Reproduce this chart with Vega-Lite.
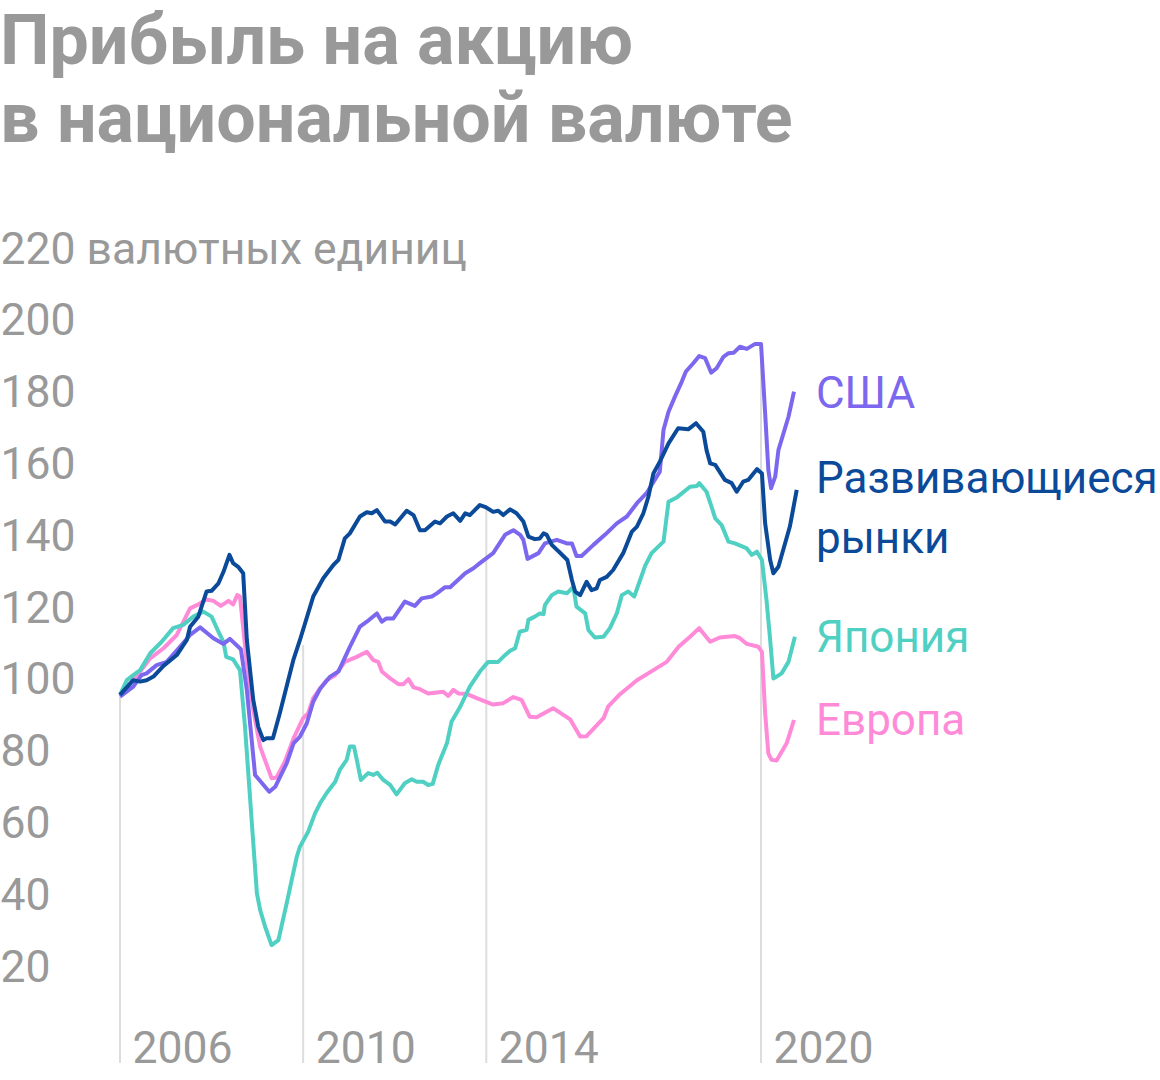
{
  "$schema": "https://vega.github.io/schema/vega-lite/v6.json",
  "width": 1160,
  "height": 833,
  "autosize": {"type": "none"},
  "padding": {"left": 0, "top": 230, "right": 0, "bottom": 17},
  "background": "white",
  "config": {"view": {"stroke": null}},
  "title": {
    "text": ["Прибыль на акцию", "в национальной валюте"],
    "anchor": "start",
    "frame": "group",
    "font": "Roboto",
    "fontSize": 70,
    "fontWeight": "bold",
    "color": "#999999",
    "lineHeight": 78,
    "offset": 70
  },
  "datasets": {
    "grid": [
      {"d": 2006, "v": 96},
      {"d": 2010, "v": 110},
      {"d": 2014, "v": 147.5},
      {"d": 2020, "v": 193.5}
    ],
    "us": [
      {"d":2006.00,"v":95.6},{"d":2006.29,"v":98.4},{"d":2006.47,"v":101.6},{"d":2006.58,"v":102.1},{"d":2006.80,"v":104.4},{"d":2007.02,"v":105.3},{"d":2007.31,"v":109.5},{"d":2007.53,"v":112.8},{"d":2007.75,"v":114.9},{"d":2008.04,"v":111.9},{"d":2008.26,"v":110.3},{"d":2008.40,"v":111.7},{"d":2008.64,"v":108.8},{"d":2008.77,"v":97.5},{"d":2008.95,"v":73.8},{"d":2009.26,"v":69.1},{"d":2009.39,"v":70.5},{"d":2009.64,"v":77.0},{"d":2009.79,"v":82.6},{"d":2009.93,"v":84.5},{"d":2010.08,"v":88.2},{"d":2010.22,"v":94.2},{"d":2010.37,"v":97.8},{"d":2010.59,"v":101.2},{"d":2010.77,"v":102.6},{"d":2011.02,"v":109.5},{"d":2011.24,"v":115.1},{"d":2011.39,"v":116.5},{"d":2011.61,"v":118.8},{"d":2011.72,"v":116.5},{"d":2011.82,"v":117.4},{"d":2011.97,"v":117.4},{"d":2012.22,"v":122.1},{"d":2012.44,"v":120.9},{"d":2012.59,"v":123.0},{"d":2012.81,"v":123.5},{"d":2012.92,"v":124.4},{"d":2013.10,"v":126.1},{"d":2013.21,"v":126.1},{"d":2013.54,"v":130.0},{"d":2013.72,"v":131.4},{"d":2013.86,"v":132.8},{"d":2014.15,"v":135.6},{"d":2014.41,"v":140.7},{"d":2014.59,"v":142.0},{"d":2014.74,"v":140.7},{"d":2014.81,"v":139.3},{"d":2014.90,"v":134.0},{"d":2015.14,"v":135.6},{"d":2015.28,"v":138.3},{"d":2015.54,"v":139.3},{"d":2015.76,"v":138.3},{"d":2015.87,"v":138.3},{"d":2015.97,"v":134.8},{"d":2016.08,"v":134.8},{"d":2016.34,"v":137.9},{"d":2016.59,"v":140.7},{"d":2016.85,"v":143.9},{"d":2017.07,"v":145.8},{"d":2017.29,"v":149.5},{"d":2017.50,"v":152.3},{"d":2017.61,"v":154.6},{"d":2017.79,"v":158.3},{"d":2017.87,"v":169.9},{"d":2017.98,"v":175.0},{"d":2018.12,"v":179.2},{"d":2018.27,"v":183.4},{"d":2018.36,"v":186.2},{"d":2018.52,"v":188.5},{"d":2018.65,"v":190.5},{"d":2018.78,"v":189.9},{"d":2018.91,"v":185.9},{"d":2019.03,"v":187.1},{"d":2019.18,"v":190.3},{"d":2019.29,"v":191.3},{"d":2019.40,"v":191.4},{"d":2019.54,"v":193.1},{"d":2019.69,"v":192.5},{"d":2019.87,"v":193.9},{"d":2020.00,"v":193.9},{"d":2020.09,"v":174.6},{"d":2020.16,"v":158.8},{"d":2020.22,"v":153.7},{"d":2020.31,"v":156.9},{"d":2020.38,"v":164.3},{"d":2020.60,"v":173.6},{"d":2020.72,"v":180.6}
    ],
    "em": [
      {"d":2006.00,"v":96.1},{"d":2006.29,"v":100.2},{"d":2006.44,"v":99.8},{"d":2006.58,"v":100.2},{"d":2006.73,"v":101.2},{"d":2006.95,"v":104.2},{"d":2007.24,"v":107.2},{"d":2007.46,"v":111.4},{"d":2007.53,"v":115.1},{"d":2007.71,"v":117.9},{"d":2007.89,"v":124.9},{"d":2008.00,"v":125.1},{"d":2008.15,"v":127.2},{"d":2008.26,"v":130.4},{"d":2008.39,"v":135.1},{"d":2008.47,"v":132.8},{"d":2008.58,"v":131.8},{"d":2008.69,"v":130.0},{"d":2008.77,"v":111.4},{"d":2008.91,"v":94.7},{"d":2009.02,"v":87.2},{"d":2009.13,"v":83.5},{"d":2009.20,"v":84.0},{"d":2009.34,"v":84.0},{"d":2009.49,"v":91.0},{"d":2009.79,"v":106.0},{"d":2009.93,"v":111.4},{"d":2010.22,"v":123.5},{"d":2010.44,"v":128.6},{"d":2010.66,"v":132.3},{"d":2010.77,"v":133.7},{"d":2010.91,"v":139.7},{"d":2011.02,"v":141.1},{"d":2011.24,"v":145.8},{"d":2011.39,"v":147.0},{"d":2011.50,"v":146.7},{"d":2011.61,"v":147.6},{"d":2011.79,"v":144.4},{"d":2011.90,"v":144.4},{"d":2012.01,"v":143.6},{"d":2012.26,"v":147.4},{"d":2012.41,"v":146.2},{"d":2012.55,"v":142.0},{"d":2012.66,"v":142.0},{"d":2012.88,"v":144.4},{"d":2012.99,"v":143.9},{"d":2013.14,"v":145.8},{"d":2013.28,"v":146.7},{"d":2013.43,"v":144.6},{"d":2013.54,"v":146.7},{"d":2013.64,"v":146.2},{"d":2013.86,"v":149.0},{"d":2013.97,"v":148.5},{"d":2014.15,"v":147.1},{"d":2014.26,"v":147.4},{"d":2014.37,"v":146.2},{"d":2014.52,"v":147.8},{"d":2014.66,"v":146.7},{"d":2014.81,"v":144.4},{"d":2014.92,"v":140.2},{"d":2015.06,"v":139.5},{"d":2015.17,"v":139.7},{"d":2015.25,"v":141.1},{"d":2015.32,"v":140.7},{"d":2015.43,"v":137.9},{"d":2015.61,"v":135.7},{"d":2015.77,"v":133.7},{"d":2015.87,"v":128.1},{"d":2015.94,"v":124.9},{"d":2016.05,"v":123.9},{"d":2016.19,"v":127.6},{"d":2016.30,"v":125.3},{"d":2016.41,"v":125.8},{"d":2016.48,"v":128.1},{"d":2016.63,"v":129.0},{"d":2016.77,"v":130.9},{"d":2016.99,"v":135.6},{"d":2017.18,"v":141.6},{"d":2017.29,"v":143.0},{"d":2017.43,"v":146.7},{"d":2017.54,"v":151.3},{"d":2017.65,"v":157.8},{"d":2017.79,"v":161.1},{"d":2017.98,"v":166.2},{"d":2018.19,"v":170.4},{"d":2018.41,"v":170.1},{"d":2018.58,"v":171.8},{"d":2018.74,"v":169.4},{"d":2018.81,"v":164.3},{"d":2018.89,"v":160.6},{"d":2019.00,"v":160.2},{"d":2019.07,"v":158.8},{"d":2019.21,"v":156.0},{"d":2019.36,"v":155.1},{"d":2019.47,"v":152.7},{"d":2019.61,"v":155.5},{"d":2019.72,"v":156.0},{"d":2019.91,"v":159.0},{"d":2020.02,"v":157.8},{"d":2020.09,"v":143.9},{"d":2020.20,"v":133.7},{"d":2020.27,"v":130.0},{"d":2020.38,"v":131.8},{"d":2020.63,"v":143.0},{"d":2020.78,"v":153.2}
    ],
    "jp": [
      {"d":2006.00,"v":96.1},{"d":2006.15,"v":100.2},{"d":2006.29,"v":101.6},{"d":2006.44,"v":103.0},{"d":2006.66,"v":107.7},{"d":2006.91,"v":110.9},{"d":2007.16,"v":114.7},{"d":2007.38,"v":115.6},{"d":2007.60,"v":117.9},{"d":2007.82,"v":119.3},{"d":2008.00,"v":117.9},{"d":2008.15,"v":113.7},{"d":2008.26,"v":110.9},{"d":2008.32,"v":106.7},{"d":2008.47,"v":106.0},{"d":2008.62,"v":103.0},{"d":2008.73,"v":87.2},{"d":2008.88,"v":60.3},{"d":2008.99,"v":40.8},{"d":2009.06,"v":36.2},{"d":2009.17,"v":31.5},{"d":2009.31,"v":26.4},{"d":2009.46,"v":27.8},{"d":2009.64,"v":38.0},{"d":2009.86,"v":51.0},{"d":2009.93,"v":53.8},{"d":2010.11,"v":58.0},{"d":2010.26,"v":63.1},{"d":2010.37,"v":65.9},{"d":2010.51,"v":68.7},{"d":2010.70,"v":71.9},{"d":2010.80,"v":75.2},{"d":2010.95,"v":78.0},{"d":2011.02,"v":81.7},{"d":2011.11,"v":81.7},{"d":2011.18,"v":77.5},{"d":2011.26,"v":72.4},{"d":2011.42,"v":74.3},{"d":2011.53,"v":73.8},{"d":2011.62,"v":74.4},{"d":2011.75,"v":72.4},{"d":2011.90,"v":71.0},{"d":2012.04,"v":68.4},{"d":2012.22,"v":71.5},{"d":2012.37,"v":72.6},{"d":2012.48,"v":71.9},{"d":2012.62,"v":71.9},{"d":2012.73,"v":71.0},{"d":2012.83,"v":71.3},{"d":2012.95,"v":76.6},{"d":2013.14,"v":82.6},{"d":2013.24,"v":88.6},{"d":2013.43,"v":92.8},{"d":2013.64,"v":98.4},{"d":2013.86,"v":102.6},{"d":2014.04,"v":105.3},{"d":2014.26,"v":105.3},{"d":2014.37,"v":106.7},{"d":2014.52,"v":108.4},{"d":2014.63,"v":109.1},{"d":2014.73,"v":113.7},{"d":2014.88,"v":114.2},{"d":2014.92,"v":117.0},{"d":2015.06,"v":117.9},{"d":2015.17,"v":118.8},{"d":2015.25,"v":118.6},{"d":2015.28,"v":121.1},{"d":2015.43,"v":123.9},{"d":2015.57,"v":124.9},{"d":2015.76,"v":124.4},{"d":2015.90,"v":126.2},{"d":2015.97,"v":120.7},{"d":2016.16,"v":118.8},{"d":2016.23,"v":114.2},{"d":2016.37,"v":112.1},{"d":2016.56,"v":112.3},{"d":2016.70,"v":114.7},{"d":2016.85,"v":118.8},{"d":2016.96,"v":123.9},{"d":2017.10,"v":124.9},{"d":2017.23,"v":123.5},{"d":2017.36,"v":128.1},{"d":2017.47,"v":132.1},{"d":2017.61,"v":135.6},{"d":2017.87,"v":138.8},{"d":2017.98,"v":149.9},{"d":2018.17,"v":151.2},{"d":2018.45,"v":154.1},{"d":2018.60,"v":154.3},{"d":2018.65,"v":155.1},{"d":2018.81,"v":152.7},{"d":2018.92,"v":148.5},{"d":2019.00,"v":145.3},{"d":2019.14,"v":143.4},{"d":2019.29,"v":138.8},{"d":2019.43,"v":138.3},{"d":2019.69,"v":136.9},{"d":2019.80,"v":135.1},{"d":2019.91,"v":136.0},{"d":2020.02,"v":133.7},{"d":2020.12,"v":122.5},{"d":2020.20,"v":111.4},{"d":2020.27,"v":100.7},{"d":2020.34,"v":101.2},{"d":2020.45,"v":102.1},{"d":2020.60,"v":105.3},{"d":2020.74,"v":112.3}
    ],
    "eu": [
      {"d":2006.00,"v":96.1},{"d":2006.22,"v":99.3},{"d":2006.44,"v":102.6},{"d":2006.66,"v":106.3},{"d":2006.95,"v":109.1},{"d":2007.24,"v":112.8},{"d":2007.53,"v":120.2},{"d":2007.68,"v":121.1},{"d":2007.89,"v":122.7},{"d":2008.04,"v":122.3},{"d":2008.20,"v":120.9},{"d":2008.37,"v":122.3},{"d":2008.47,"v":121.3},{"d":2008.56,"v":123.9},{"d":2008.62,"v":123.5},{"d":2008.77,"v":104.9},{"d":2008.91,"v":91.9},{"d":2009.06,"v":81.7},{"d":2009.31,"v":72.9},{"d":2009.42,"v":73.1},{"d":2009.60,"v":77.5},{"d":2009.79,"v":84.0},{"d":2010.00,"v":89.6},{"d":2010.11,"v":91.0},{"d":2010.22,"v":95.2},{"d":2010.37,"v":97.9},{"d":2010.51,"v":100.2},{"d":2010.70,"v":101.6},{"d":2010.91,"v":105.3},{"d":2011.17,"v":106.7},{"d":2011.39,"v":108.1},{"d":2011.53,"v":105.8},{"d":2011.64,"v":105.3},{"d":2011.72,"v":102.6},{"d":2011.90,"v":100.7},{"d":2012.08,"v":99.1},{"d":2012.19,"v":99.1},{"d":2012.30,"v":100.5},{"d":2012.41,"v":98.2},{"d":2012.55,"v":97.7},{"d":2012.73,"v":96.5},{"d":2013.06,"v":97.0},{"d":2013.17,"v":95.8},{"d":2013.28,"v":97.5},{"d":2013.39,"v":96.5},{"d":2013.57,"v":96.4},{"d":2013.79,"v":95.2},{"d":2014.15,"v":93.4},{"d":2014.37,"v":93.8},{"d":2014.59,"v":95.5},{"d":2014.77,"v":94.7},{"d":2014.95,"v":90.0},{"d":2015.10,"v":89.9},{"d":2015.46,"v":92.4},{"d":2015.83,"v":89.3},{"d":2016.05,"v":84.5},{"d":2016.19,"v":84.6},{"d":2016.56,"v":89.6},{"d":2016.66,"v":92.8},{"d":2016.92,"v":96.3},{"d":2017.29,"v":100.2},{"d":2017.65,"v":103.0},{"d":2017.94,"v":105.3},{"d":2018.20,"v":109.5},{"d":2018.45,"v":112.3},{"d":2018.65,"v":114.7},{"d":2018.89,"v":110.9},{"d":2019.10,"v":112.1},{"d":2019.43,"v":112.5},{"d":2019.54,"v":111.9},{"d":2019.69,"v":110.3},{"d":2019.94,"v":109.5},{"d":2020.02,"v":108.1},{"d":2020.09,"v":91.0},{"d":2020.16,"v":79.8},{"d":2020.23,"v":78.0},{"d":2020.34,"v":77.8},{"d":2020.56,"v":82.6},{"d":2020.72,"v":89.1}
    ],
    "labels": [
      {"s": "США", "t": "США", "d": 2021.2, "v": 176.0},
      {"s": "Развивающиеся рынки", "t": "Развивающиеся\nрынки", "d": 2021.2, "v": 152.4},
      {"s": "Япония", "t": "Япония", "d": 2021.2, "v": 108.1},
      {"s": "Европа", "t": "Европа", "d": 2021.2, "v": 84.9}
    ]
  },
  "encoding": {
    "x": {
      "field": "d",
      "type": "quantitative",
      "scale": {"domain": [2003.379, 2028.714], "nice": false, "zero": false},
      "axis": {
        "values": [2006, 2010, 2014, 2020],
        "format": "d",
        "title": null,
        "domain": false,
        "ticks": false,
        "tickSize": 0,
        "grid": false,
        "labelAlign": "left",
        "labelOffset": 12,
        "labelBaseline": "alphabetic",
        "labelPadding": -1,
        "labelFont": "Roboto",
        "labelFontSize": 44.5,
        "labelColor": "#999999",
        "labelOverlap": false,
        "labelFlush": false
      }
    },
    "y": {
      "field": "v",
      "type": "quantitative",
      "scale": {"domain": [-6.46, 225.63], "nice": false, "zero": false},
      "axis": {
        "values": [20, 40, 60, 80, 100, 120, 140, 160, 180, 200, 220],
        "labelExpr": "datum.value == 220 ? '220 валютных единиц' : datum.label",
        "title": null,
        "domain": false,
        "ticks": false,
        "tickSize": 0,
        "grid": false,
        "labelAlign": "left",
        "labelBaseline": "middle",
        "labelPadding": 0,
        "labelLimit": 0,
        "labelFont": "Roboto",
        "labelFontSize": 44.5,
        "labelColor": "#999999",
        "labelOverlap": false
      }
    }
  },
  "layer": [
    {
      "data": {"name": "grid"},
      "mark": {"type": "rule", "color": "#dddddd", "strokeWidth": 2},
      "encoding": {"y2": {"datum": -6.46}}
    },
    {
      "data": {"name": "eu"},
      "mark": {"type": "line", "color": "#ff8ad8", "strokeWidth": 4, "strokeJoin": "round"}
    },
    {
      "data": {"name": "jp"},
      "mark": {"type": "line", "color": "#4fd0c3", "strokeWidth": 4, "strokeJoin": "round"}
    },
    {
      "data": {"name": "us"},
      "mark": {"type": "line", "color": "#7b68ee", "strokeWidth": 4, "strokeJoin": "round"}
    },
    {
      "data": {"name": "em"},
      "mark": {"type": "line", "color": "#0b4a99", "strokeWidth": 4, "strokeJoin": "round"}
    },
    {
      "data": {"name": "labels"},
      "mark": {"type": "text", "align": "left", "baseline": "alphabetic", "font": "Roboto", "fontSize": 44, "lineHeight": 60, "lineBreak": "\n"},
      "encoding": {
        "text": {"field": "t"},
        "color": {
          "field": "s",
          "type": "nominal",
          "scale": {"domain": ["США", "Развивающиеся рынки", "Япония", "Европа"], "range": ["#7b68ee", "#0b4a99", "#4fd0c3", "#ff8ad8"]},
          "legend": null
        }
      }
    }
  ]
}
